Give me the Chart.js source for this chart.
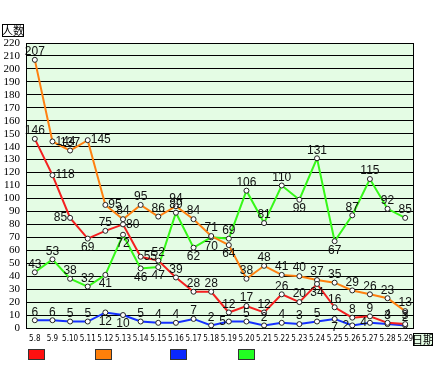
<!DOCTYPE html>
<html>
<head>
<meta charset="utf-8">
<script src="https://cdn.jsdelivr.net/npm/chart.js@4"></script>
<style>
  html, body { margin: 0; padding: 0; background: #fff; }
  #box { width: 433px; height: 377px; }
</style>
</head>
<body>
<div id="box"><canvas id="myChart" width="433" height="377"></canvas></div>
<script>
// dates along the bottom
const days = ['5.8','5.9','5.10','5.11','5.12','5.13','5.14','5.15','5.16','5.17','5.18',
              '5.19','5.20','5.21','5.22','5.23','5.24','5.25','5.26','5.27','5.28','5.29'];

const redVals    = [146,118,85,69,75,80,55,52,39,28,28,12,17,12,26,20,34,16,8,9,4,3];
const orangeVals = [207,144,137,145,95,84,95,86,94,84,71,64,38,48,41,40,37,35,29,26,23,13];
const blueVals   = [6,6,5,5,12,10,5,4,4,7,2,5,5,2,4,3,5,7,2,4,3,2];
const greenVals  = [43,53,38,32,41,72,46,47,89,62,70,69,106,81,110,99,131,67,87,115,92,85];

const yTicks = [0,10,20,30,40,50,60,70,80,90,100,110,120,130,140,150,160,170,180,190,200,210,220];

// where each value label sits: a = above, b = below, r = right, l = left
const labelSide = [
  'a r l b a r r a a a a a a a a a b a a a a a'.split(' '),
  'a r a r r a a a a a a b a a a a a a a a a a'.split(' '),
  'a a a a b b a a a a a l a a a a a b l l a a'.split(' '),
  'a a a a b b b b a b b a a a a b a b a a a a'.split(' ')
];

const lineColors = ['#f42020', '#ff8010', '#1530ff', '#35f818'];
const boxColors  = ['#ff1010', '#ff7f0a', '#0a28ff', '#22ff22'];

const plotFrame = {
  id: 'plotFrame',
  beforeDraw(chart) {
    const {ctx, chartArea: a} = chart;
    ctx.save();
    ctx.fillStyle = '#e4fce4';
    ctx.fillRect(a.left, a.top, a.right - a.left, a.bottom - a.top);
    ctx.restore();
  },
  afterDraw(chart) {
    const {ctx, chartArea: a} = chart;
    ctx.save();
    ctx.strokeStyle = '#000';
    ctx.lineWidth = 1;
    ctx.strokeRect(a.left + 0.5, a.top + 0.5, a.right - a.left - 1, a.bottom - a.top);

    // axis name boxes
    ctx.font = '11px "Noto Sans CJK SC"';
    ctx.textBaseline = 'middle';
    ctx.textAlign = 'center';
    ctx.strokeRect(2.5, 24.5, 21, 12);
    ctx.fillStyle = '#000';
    ctx.fillText('人数', 13, 30.5);
    ctx.fillStyle = '#e4fce4';
    ctx.fillRect(413, 333, 20, 13);
    ctx.strokeRect(413.5, 333.5, 19, 12);
    ctx.fillStyle = '#000';
    ctx.fillText('日期', 423, 339.5);

    // legend boxes (no text in the original)
    const lx = [28, 95, 170, 238];
    lx.forEach((x, i) => {
      ctx.fillStyle = boxColors[i];
      ctx.fillRect(x, 349, 16, 10);
      ctx.strokeStyle = '#333';
      ctx.strokeRect(x + 0.5, 349.5, 16, 10);
    });
    ctx.restore();
  }
};

const valueLabels = {
  id: 'valueLabels',
  afterDatasetsDraw(chart) {
    const ctx = chart.ctx;
    ctx.save();
    ctx.font = '12px "Liberation Sans"';
    ctx.fillStyle = '#111';
    chart.data.datasets.forEach((ds, i) => {
      const meta = chart.getDatasetMeta(i);
      meta.data.forEach((pt, j) => {
        const side = labelSide[i][j];
        const txt = String(ds.data[j]);
        let x = pt.x, y = pt.y;
        if (side === 'a') { ctx.textAlign = 'center'; ctx.textBaseline = 'bottom'; y -= 2; }
        else if (side === 'b') { ctx.textAlign = 'center'; ctx.textBaseline = 'top'; y += 3; }
        else if (side === 'r') { ctx.textAlign = 'left'; ctx.textBaseline = 'middle'; x += 3; }
        else { ctx.textAlign = 'right'; ctx.textBaseline = 'middle'; x -= 3; }
        ctx.fillText(txt, x, y);
      });
    });
    ctx.restore();
  }
};

function series(label, vals, color) {
  return {
    label: label,
    data: vals,
    borderColor: color,
    borderWidth: 2,
    pointRadius: 2.5,
    pointBackgroundColor: '#fff',
    pointBorderColor: '#222',
    pointBorderWidth: 1,
    tension: 0
  };
}

let ctx = document.getElementById('myChart');

new Chart(ctx, {
  type: 'line',
  data: {
    labels: days,
    datasets: [
      series('red', redVals, lineColors[0]),
      series('orange', orangeVals, lineColors[1]),
      series('blue', blueVals, lineColors[2]),
      series('green', greenVals, lineColors[3])
    ]
  },
  options: {
    responsive: false,
    animation: false,
    layout: { padding: { top: 43, right: 19, bottom: 29, left: 0 } },
    plugins: { legend: { display: false }, tooltip: { enabled: false } },
    scales: {
      x: {
        offset: true,
        grid: { display: false, drawTicks: false },
        border: { display: false },
        ticks: {
          autoSkip: false, maxRotation: 0, minRotation: 0, padding: 6,
          color: '#000', font: { family: '"DejaVu Sans Condensed", "Liberation Sans"', size: 8 }
        },
        afterFit(scale) { scale.height = 20; }
      },
      y: {
        min: 0, max: 220,
        afterBuildTicks(scale) { scale.ticks = yTicks.map(v => ({ value: v })); },
        grid: { color: '#000', lineWidth: 1, drawTicks: false },
        border: { display: false },
        ticks: {
          autoSkip: false, padding: 6, color: '#000',
          font: { family: 'Liberation Serif', size: 11 }
        },
        afterFit(scale) { scale.width = 26; }
      }
    }
  },
  plugins: [plotFrame, valueLabels]
});
</script>
</body>
</html>
